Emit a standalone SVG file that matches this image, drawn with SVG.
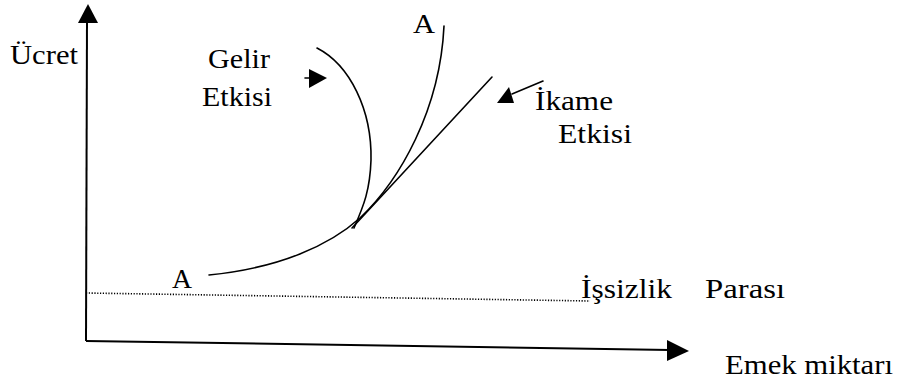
<svg xmlns="http://www.w3.org/2000/svg" width="902" height="384" viewBox="0 0 902 384">
<style>
text{font-size:27px;fill:#000}
.ln{fill:none;stroke:#000;stroke-width:1.6;stroke-linecap:round}
.ax{fill:none;stroke:#000;stroke-width:2}
.dot{fill:none;stroke:#000;stroke-width:1.6;stroke-dasharray:1.2 1.6}
.hd{fill:#000;stroke:none}
</style>
<rect width="902" height="384" fill="#fff"/>
<g font-family="Liberation Serif, 'Times New Roman', 'DejaVu Serif', serif">
<g id="axes">
<line class="ax" x1="87" y1="20" x2="86" y2="341"/>
<polygon class="hd" points="88,4 78,23 98,23"/>
<line class="ax" x1="86" y1="341" x2="670" y2="350"/>
<polygon class="hd" points="689,351 667,340 667,361"/>
<text x="10" y="64" textLength="68" lengthAdjust="spacingAndGlyphs">Ücret</text>
<text x="725" y="374" textLength="168" lengthAdjust="spacingAndGlyphs">Emek miktarı</text>
</g>
<g id="unemployment">
<line class="dot" x1="86" y1="293" x2="590" y2="301"/>
<text x="581" y="298" textLength="91" lengthAdjust="spacingAndGlyphs">İşsizlik</text>
<text x="705" y="298" textLength="80" lengthAdjust="spacingAndGlyphs">Parası</text>
</g>
<g id="curve-A">
<path class="ln" d="M209,275 C280,268 330,245 360,218 C400,180 440,110 444,26"/>
<text x="413" y="33" textLength="22" lengthAdjust="spacingAndGlyphs">A</text>
<text x="172" y="288" textLength="20" lengthAdjust="spacingAndGlyphs">A</text>
</g>
<g id="gelir">
<path class="ln" d="M317,48 C350,65 372,110 371,160 C370,190 364,205 354,228"/>
<text x="208" y="68" textLength="62" lengthAdjust="spacingAndGlyphs">Gelir</text>
<text x="202" y="106" textLength="70" lengthAdjust="spacingAndGlyphs">Etkisi</text>
</g>
<g id="ikame">
<line class="ln" x1="352" y1="228" x2="492" y2="77"/>
<text x="535" y="110" textLength="78" lengthAdjust="spacingAndGlyphs">İkame</text>
<text x="558" y="143" textLength="74" lengthAdjust="spacingAndGlyphs">Etkisi</text>
</g>
</g>
<g id="connectors">
<line class="ln" x1="305" y1="78" x2="312" y2="78"/>
<polygon class="hd" points="327,78 309,69 309,88"/>
<line class="ln" x1="512" y1="94" x2="543" y2="81"/>
<polygon class="hd" points="497,103 514,103 509,87"/>
</g>
</svg>
